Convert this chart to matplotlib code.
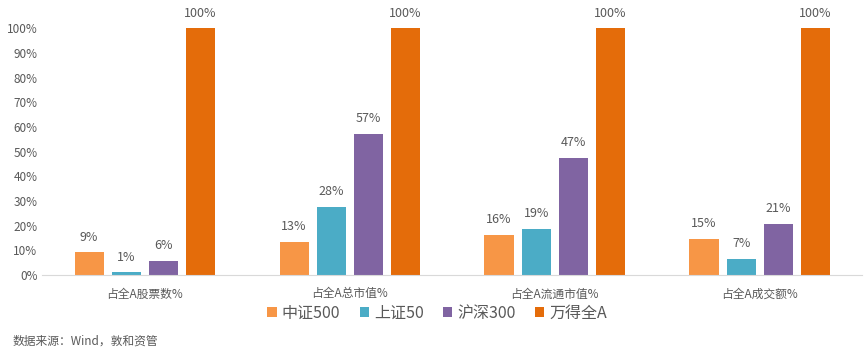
import numpy as np
import matplotlib
matplotlib.use("Agg")
import matplotlib.pyplot as plt
from matplotlib.ticker import PercentFormatter

plt.rcParams['font.family'] = ['Noto Sans CJK SC', 'DejaVu Sans']

categories = ['占全A股票数%', '占全A总市值%', '占全A流通市值%', '占全A成交额%']
series_names = ['中证500', '上证50', '沪深300', '万得全A']
zz500 = [9.2, 13.4, 16.3, 14.7]
sz50 = [1.0, 27.6, 18.6, 6.6]
hs300 = [5.6, 57.3, 47.4, 20.7]
wdqa = [100, 100, 100, 100]
colors = ['#F79646', '#4BACC6', '#8064A2', '#E46C0A']

txt = '#595959'
fig = plt.figure(figsize=(8.64, 3.52), dpi=100)
ax = fig.add_axes([0.049, 0.219, 0.949, 0.701])

x = np.arange(len(categories))
width = 0.143
step = 0.181
all_series = [zz500, sz50, hs300, wdqa]
for i, (vals, name, c) in enumerate(zip(all_series, series_names, colors)):
    pos = x + (i - 1.5) * step
    bars = ax.bar(pos, vals, width, color=c, label=name)
    for b, v in zip(bars, vals):
        ax.text(b.get_x() + b.get_width() / 2, v + 3.5, f'{v:.0f}%',
                ha='center', va='bottom', fontsize=9, color=txt, clip_on=False)

ax.set_xlim(-0.5, len(categories) - 0.5)
ax.set_ylim(0, 100)
ax.set_yticks(np.arange(0, 101, 10))
ax.yaxis.set_major_formatter(PercentFormatter(decimals=0))
ax.set_xticks(x)
ax.set_xticklabels(categories)
ax.tick_params(axis='both', length=0, labelsize=8.5, colors=txt)
ax.tick_params(axis='x', pad=9)
for s in ['top', 'right', 'left']:
    ax.spines[s].set_visible(False)
ax.spines['bottom'].set_color('#D9D9D9')

leg = fig.legend(loc='center', bbox_to_anchor=(0.506, 0.11), ncol=4, frameon=False,
                 fontsize=11.5, handlelength=0.6, handleheight=0.6, handletextpad=0.3,
                 columnspacing=1.2)
for t in leg.get_texts():
    t.set_color(txt)

fig.text(0.015, 0.02, '数据来源：Wind，敦和资管', fontsize=8.5, color=txt)

fig.savefig('out.png', dpi=100)
